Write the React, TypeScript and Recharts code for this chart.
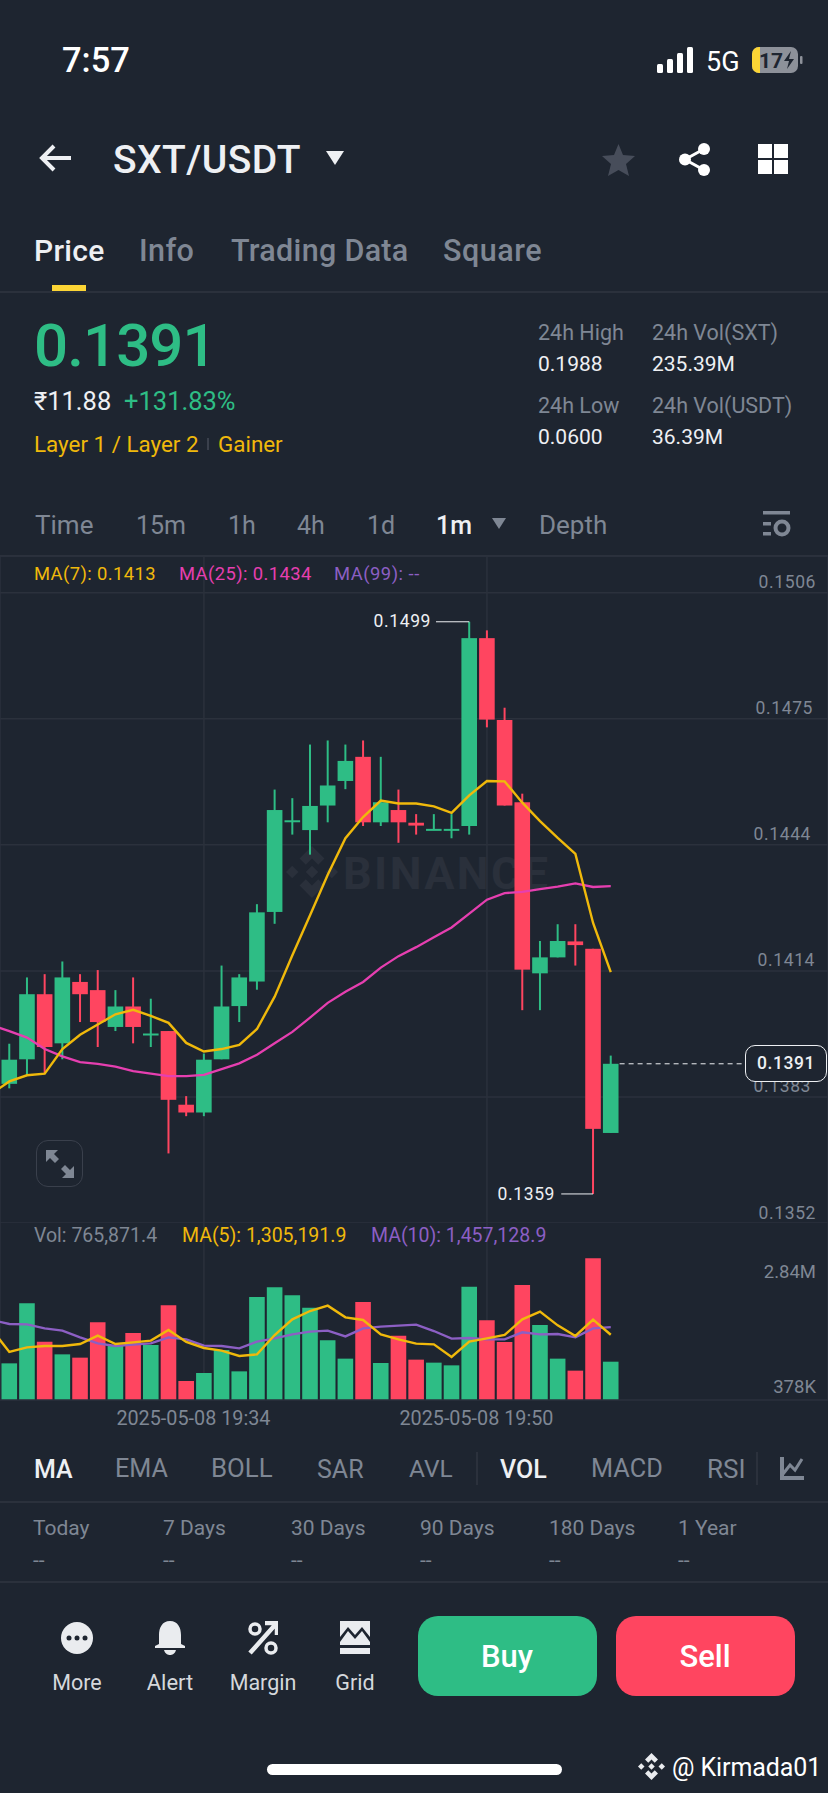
import React from 'react'
import {
  ComposedChart, Bar, Line, XAxis, YAxis, CartesianGrid, ReferenceLine, Cell,
} from 'recharts'

// candles, oldest first
const OPEN = [0.13860, 0.13920, 0.14079, 0.13959, 0.14109, 0.14089, 0.13999, 0.14049, 0.13981, 0.13989, 0.13809, 0.13790, 0.13920, 0.14050, 0.14110, 0.14280, 0.14502, 0.14480, 0.14540, 0.14600, 0.14659, 0.14499, 0.14529, 0.14498, 0.14480, 0.14480, 0.14490, 0.14949, 0.14749, 0.14548, 0.14130, 0.14169, 0.14208, 0.14190, 0.13740]
const CLOSE = [0.13919, 0.14079, 0.13950, 0.14120, 0.14079, 0.14011, 0.14049, 0.13999, 0.13983, 0.13821, 0.13790, 0.13919, 0.14049, 0.14120, 0.14279, 0.14529, 0.14504, 0.14539, 0.14589, 0.14649, 0.14499, 0.14548, 0.14499, 0.14491, 0.14483, 0.14483, 0.14949, 0.14750, 0.14540, 0.14139, 0.14169, 0.14209, 0.14199, 0.13750, 0.13909]
const HIGH = [0.13958, 0.14120, 0.14128, 0.14159, 0.14128, 0.14138, 0.14089, 0.14120, 0.14068, 0.13989, 0.13830, 0.13934, 0.14149, 0.14128, 0.14299, 0.14579, 0.14558, 0.14689, 0.14699, 0.14689, 0.14699, 0.14659, 0.14579, 0.14519, 0.14519, 0.14519, 0.14989, 0.14968, 0.14779, 0.14569, 0.14209, 0.14250, 0.14250, 0.14190, 0.13929]
const LOW = [0.13849, 0.13880, 0.13885, 0.13920, 0.14011, 0.13950, 0.13989, 0.13959, 0.13950, 0.13690, 0.13781, 0.13781, 0.13920, 0.14011, 0.14090, 0.14251, 0.14469, 0.14420, 0.14499, 0.14580, 0.14490, 0.14490, 0.14449, 0.14469, 0.14480, 0.14460, 0.14469, 0.14731, 0.14540, 0.14040, 0.14040, 0.14169, 0.14149, 0.13591, 0.13740]
const VOLUME = [733000, 1933000, 1167000, 913000, 847000, 1553000, 1080000, 1340000, 1100000, 1893000, 380000, 540000, 1000000, 573000, 2060000, 2253000, 2093000, 1847000, 1193000, 827000, 1960000, 740000, 1287000, 807000, 747000, 693000, 2267000, 1593000, 1160000, 2300000, 1500000, 827000, 587000, 2833000, 766000]

// moving averages start one minute before the first visible candle
const MA7 = [0.13836, 0.13866, 0.13881, 0.13885, 0.13945, 0.13980, 0.14005, 0.14030, 0.14041, 0.14026, 0.14009, 0.13960, 0.13939, 0.13945, 0.13955, 0.13994, 0.14073, 0.14174, 0.14272, 0.14371, 0.14460, 0.14512, 0.14552, 0.14545, 0.14545, 0.14538, 0.14522, 0.14565, 0.14600, 0.14599, 0.14547, 0.14502, 0.14461, 0.14422, 0.14253, 0.14133]
const MA25 = [0.14003, 0.13989, 0.13973, 0.13945, 0.13927, 0.13913, 0.13909, 0.13902, 0.13891, 0.13885, 0.13879, 0.13879, 0.13882, 0.13896, 0.13910, 0.13931, 0.13959, 0.13987, 0.14022, 0.14058, 0.14085, 0.14109, 0.14144, 0.14172, 0.14194, 0.14218, 0.14242, 0.14276, 0.14310, 0.14326, 0.14329, 0.14336, 0.14342, 0.14350, 0.14341, 0.14343]
const VOL_MA5 = [1413000, 960000, 1053000, 1080000, 1080000, 1120000, 1287000, 1120000, 1153000, 1187000, 1400000, 1160000, 1040000, 987000, 880000, 913000, 1300000, 1613000, 1780000, 1887000, 1653000, 1600000, 1313000, 1213000, 1127000, 1113000, 860000, 1167000, 1233000, 1300000, 1613000, 1767000, 1493000, 1280000, 1607000, 1305000]
const VOL_MA10 = [1600000, 1520000, 1513000, 1433000, 1387000, 1253000, 1133000, 1080000, 1107000, 1133000, 1253000, 1213000, 1087000, 1080000, 1033000, 1167000, 1233000, 1313000, 1367000, 1387000, 1273000, 1433000, 1467000, 1487000, 1507000, 1380000, 1227000, 1240000, 1213000, 1213000, 1353000, 1313000, 1320000, 1253000, 1433000, 1457000]

// unrounded so the grid stays evenly spaced, labels show four decimals
const PRICE_TICKS = [0.1506, 0.14752, 0.14444, 0.14136, 0.13828, 0.1352]
const VOL_TICKS = [2840000, 378000]
const TIME_TICKS = [11, 27]
const TIME_LABELS = ['2025-05-08 19:34', '2025-05-08 19:50']

const BG = '#1E2530'
const GRID = '#2B313C'
const GREEN = '#2EBD85'
const RED = '#FF4560'
const YELLOW = '#F0B90B'
const PINK = '#E63FB0'
const PURPLE = '#8C5FC4'
const GREY = '#7F8794'
const WHITE = '#EEF0F3'
const FONT = 'Roboto, sans-serif'

const X_DOMAIN = [-0.527, 46.28]

const priceRows = MA7.map((ma7, i) => {
  const c = i - 1
  return {
    idx: c,
    ma7,
    ma25: MA25[i],
    range: c >= 0 ? [LOW[c], HIGH[c]] : undefined,
    open: OPEN[c],
    close: CLOSE[c],
  }
})

const volRows = VOL_MA5.map((ma5, i) => ({
  idx: i - 1,
  ma5,
  ma10: VOL_MA10[i],
  volume: i > 0 ? VOLUME[i - 1] : undefined,
  up: i > 0 ? CLOSE[i - 1] >= OPEN[i - 1] : true,
}))

function Candle(props: any) {
  const { x, y, width, height, payload } = props
  if (!payload.range) return null
  const [low, high] = payload.range
  const toY = (v: number) => y + ((high - v) / (high - low)) * height
  const up = payload.close >= payload.open
  const color = up ? GREEN : RED
  const top = toY(Math.max(payload.open, payload.close))
  const bottom = toY(Math.min(payload.open, payload.close))
  const cx = x + width / 2
  return (
    <g>
      <line x1={cx} x2={cx} y1={y} y2={y + height} stroke={color} strokeWidth={2} />
      <rect x={x} y={top} width={width} height={Math.max(bottom - top, 2)} fill={color} />
    </g>
  )
}

const PRICE_RIGHT: Record<string, number> = {
  '0.1506': 816, '0.1475': 813, '0.1444': 811, '0.1414': 815, '0.1383': 811, '0.1352': 816,
}

function PriceTick(props: any) {
  const label = Number(props.payload.value).toFixed(4)
  return (
    <text x={PRICE_RIGHT[label]} y={props.y - 10.5} textAnchor="end" dominantBaseline="central"
      fill={GREY} fontFamily={FONT} fontSize={17.5} letterSpacing={0.6}>
      {label}
    </text>
  )
}

function VolTick(props: any) {
  const big = props.payload.value > 1000000
  return (
    <text x={816} y={props.y + (big ? 14 : 6)} textAnchor="end" dominantBaseline="central"
      fill={GREY} fontFamily={FONT} fontSize={18.5}>
      {big ? '2.84M' : '378K'}
    </text>
  )
}

function TimeTick(props: any) {
  const label = TIME_LABELS[TIME_TICKS.indexOf(props.payload.value)]
  return (
    <text x={props.x - 10.5} y={1418 - 1223} textAnchor="middle" dominantBaseline="central"
      fill={GREY} fontFamily={FONT} fontSize={19.8}>
      {label}
    </text>
  )
}

// absolutely placed text, y is the vertical centre
function T({ x, y, size, color = GREY, weight = 400, center, right, spacing, children }: any) {
  const tx = center ? '-50%' : right ? '-100%' : '0'
  return (
    <span style={{
      position: 'absolute', left: x, top: y, transform: `translate(${tx}, -50%)`,
      fontSize: size, color, fontWeight: weight, letterSpacing: spacing, whiteSpace: 'nowrap', lineHeight: 1,
    }}>
      {children}
    </span>
  )
}

function Rule({ y }: { y: number }) {
  return <div style={{ position: 'absolute', left: 0, width: 828, top: y, height: 1.5, background: GRID }} />
}

function Icon({ x, y, w, h, vb, children }: any) {
  return (
    <svg style={{ position: 'absolute', left: x, top: y }} width={w} height={h} viewBox={vb}>
      {children}
    </svg>
  )
}

function BinanceMark({ x, y, size, color }: any) {
  return (
    <Icon x={x} y={y} w={size} h={size} vb="0 0 100 100">
      <g fill={color}>
        <path d="M50 0 L74 24 L62 36 L50 24 L38 36 L26 24 Z" />
        <path d="M50 100 L74 76 L62 64 L50 76 L38 64 L26 76 Z" />
        <path d="M12 38 L24 50 L12 62 L0 50 Z" />
        <path d="M88 38 L100 50 L88 62 L76 50 Z" />
        <path d="M50 38 L62 50 L50 62 L38 50 Z" />
      </g>
    </Icon>
  )
}

function PriceChart() {
  return (
    <div style={{ position: 'absolute', left: 0, top: 556 }}>
      <ComposedChart width={828} height={667} data={priceRows} margin={{ top: 0, right: 0, bottom: 0, left: 0 }}>
        <CartesianGrid stroke={GRID} strokeWidth={1.5} />
        <XAxis dataKey="idx" type="number" domain={X_DOMAIN} ticks={TIME_TICKS} interval={0} allowDataOverflow hide />
        <YAxis type="number" domain={[0.1352, 0.151497]} ticks={PRICE_TICKS} interval={0} orientation="right"
          mirror width={70} axisLine={false} tickLine={false} tick={PriceTick} allowDataOverflow />
        <Bar dataKey="range" barSize={15.6} shape={Candle} isAnimationActive={false} />
        <Line dataKey="ma25" stroke={PINK} strokeWidth={2.3} dot={false} isAnimationActive={false} />
        <Line dataKey="ma7" stroke={YELLOW} strokeWidth={2.4} dot={false} isAnimationActive={false} />
        <ReferenceLine segment={[{ x: 24.12, y: 0.14989 }, { x: 26, y: 0.14989 }]} stroke={WHITE} strokeWidth={1} />
        <ReferenceLine segment={[{ x: 31.2, y: 0.13591 }, { x: 33, y: 0.13591 }]} stroke={WHITE} strokeWidth={1} />
        <ReferenceLine segment={[{ x: 34.5, y: 0.13909 }, { x: 41.6, y: 0.13909 }]} stroke={WHITE} strokeWidth={1} strokeDasharray="5 4" />
      </ComposedChart>
    </div>
  )
}

function VolumeChart() {
  return (
    <div style={{ position: 'absolute', left: 0, top: 1223 }}>
      <ComposedChart width={828} height={207} data={volRows} margin={{ top: 0, right: 0, bottom: 0, left: 0 }}>
        <CartesianGrid stroke={GRID} strokeWidth={1.5} horizontal={false} />
        <XAxis dataKey="idx" type="number" domain={X_DOMAIN} ticks={TIME_TICKS} interval={0} allowDataOverflow
          height={30} stroke={GRID} strokeWidth={1.5} tickLine={false} tick={TimeTick} />
        <YAxis type="number" domain={[0, 3540000]} ticks={VOL_TICKS} interval={0} orientation="right"
          mirror width={70} axisLine={false} tickLine={false} tick={VolTick} allowDataOverflow />
        <Bar dataKey="volume" barSize={15.6} isAnimationActive={false}>
          {volRows.map(r => <Cell key={r.idx} fill={r.up ? GREEN : RED} />)}
        </Bar>
        <Line dataKey="ma10" stroke={PURPLE} strokeWidth={2.4} dot={false} isAnimationActive={false} />
        <Line dataKey="ma5" stroke={YELLOW} strokeWidth={2.4} dot={false} isAnimationActive={false} />
      </ComposedChart>
    </div>
  )
}

export default function App() {
  return (
    <div style={{ position: 'absolute', left: 0, top: 0, width: 828, height: 1793, background: BG, overflow: 'hidden', fontFamily: FONT }}>
      {/* status bar */}
      <T x={62} y={60} size={34.5} color="#fff" weight={500}>7:57</T>
      <Icon x={657} y={47} w={38} h={26} vb="0 0 38 26">
        <g fill="#fff">
          <rect x={0} y={17} width={6} height={9} rx={1.5} />
          <rect x={10} y={12} width={6} height={14} rx={1.5} />
          <rect x={20} y={6} width={6} height={20} rx={1.5} />
          <rect x={30} y={0} width={6} height={26} rx={1.5} />
        </g>
      </Icon>
      <T x={706} y={62} size={27} color="#fff">5G</T>
      <Icon x={752} y={46} w={52} h={28} vb="0 0 52 28">
        <rect x={0} y={1} width={46} height={26} rx={7} fill="#8d9199" />
        <path d="M7 1 H8 V27 H7 A7 7 0 0 1 0 20 V8 A7 7 0 0 1 7 1 Z" fill="#FCD535" />
        <rect x={48} y={10} width={2.5} height={8} rx={1} fill="#8d9199" />
        <path d="M39 5 L32 15 H37 L35 23 L42 13 H37 Z" fill="#1E2530" />
      </Icon>
      <T x={759} y={61} size={21} color="#1E2530" weight={700}>17</T>

      {/* title row */}
      <Icon x={39} y={143} w={33} h={30} vb="0 0 33 30">
        <path d="M15 3 L3 15 L15 27 M3 15 H32" fill="none" stroke={WHITE} strokeWidth={4} />
      </Icon>
      <T x={113} y={160} size={39} color={WHITE} weight={500} spacing={0.4}>SXT/USDT</T>
      <Icon x={326} y={151} w={18} h={14} vb="0 0 18 14"><path d="M0 0 H18 L9 14 Z" fill={WHITE} /></Icon>
      <Icon x={602} y={143} w={33} h={33} vb="0 0 33 33">
        <path d="M16.5 1 L21 12 L33 13 L24 21 L27 33 L16.5 27 L6 33 L9 21 L0 13 L12 12 Z" fill="#474D5A" />
      </Icon>
      <Icon x={679} y={143} w={32} h={33} vb="0 0 32 33">
        <circle cx={25} cy={6} r={6} fill="#fff" />
        <circle cx={6} cy={16.5} r={6} fill="#fff" />
        <circle cx={25} cy={27} r={6} fill="#fff" />
        <path d="M25 6 L6 16.5 L25 27" fill="none" stroke="#fff" strokeWidth={3} />
      </Icon>
      <Icon x={758} y={144} w={30} h={30} vb="0 0 30 30">
        <g fill="#fff">
          <rect x={0} y={0} width={14} height={14} />
          <rect x={16} y={0} width={14} height={14} />
          <rect x={0} y={16} width={14} height={14} />
          <rect x={16} y={16} width={14} height={14} />
        </g>
      </Icon>

      {/* tabs */}
      <T x={34} y={251} size={30} color={WHITE} weight={500} spacing={0.3}>Price</T>
      <T x={139} y={251} size={30.5} weight={500} spacing={0.4}>Info</T>
      <T x={231} y={251} size={30.5} weight={500} spacing={0.3}>Trading Data</T>
      <T x={443} y={251} size={30.5} weight={500} spacing={0.5}>Square</T>
      <div style={{ position: 'absolute', left: 52, top: 285, width: 34, height: 6, background: '#FCD535' }} />
      <Rule y={291} />

      {/* ticker */}
      <T x={34} y={346} size={60} color={GREEN} weight={500} spacing={-0.9}>0.1391</T>
      <T x={34} y={402} size={25.5} color={WHITE}>₹11.88</T>
      <T x={124} y={402} size={25.5} color={GREEN}>+131.83%</T>
      <T x={34} y={444} size={22.4} color={YELLOW}>Layer 1 / Layer 2</T>
      <div style={{ position: 'absolute', left: 207, top: 438, width: 1.5, height: 12, background: '#3a404c' }} />
      <T x={218} y={444} size={22.4} color={YELLOW}>Gainer</T>
      <T x={538} y={333} size={21.5}>24h High</T>
      <T x={538} y={364} size={21} color={WHITE}>0.1988</T>
      <T x={652} y={333} size={21.5}>24h Vol(SXT)</T>
      <T x={652} y={364} size={21} color={WHITE}>235.39M</T>
      <T x={538} y={406} size={21.5}>24h Low</T>
      <T x={538} y={437} size={21} color={WHITE}>0.0600</T>
      <T x={652} y={406} size={21.5}>24h Vol(USDT)</T>
      <T x={652} y={437} size={21} color={WHITE}>36.39M</T>

      {/* intervals */}
      <T x={35} y={525} size={26}>Time</T>
      <T x={136} y={525} size={25}>15m</T>
      <T x={228} y={525} size={25}>1h</T>
      <T x={297} y={525} size={25}>4h</T>
      <T x={367} y={525} size={25}>1d</T>
      <T x={436} y={525} size={25} color={WHITE} weight={500}>1m</T>
      <Icon x={492} y={518} w={14} h={11} vb="0 0 14 11"><path d="M0 0 H14 L7 11 Z" fill={GREY} /></Icon>
      <T x={539} y={525} size={26}>Depth</T>
      <Icon x={763} y={511} w={28} h={27} vb="0 0 28 27">
        <g fill={GREY}>
          <rect x={0} y={0} width={27} height={3.5} />
          <rect x={0} y={11} width={8} height={3.5} />
          <rect x={0} y={21} width={8} height={3.5} />
        </g>
        <circle cx={19} cy={17} r={6.5} fill="none" stroke={GREY} strokeWidth={4} />
      </Icon>

      <Rule y={555} />

      {/* watermark sits under the candles */}
      <BinanceMark x={286} y={846} size={52} color="#2A303B" />
      <T x={343} y={873} size={45} color="#2A303B" weight={700} spacing={2.4}>BINANCE</T>

      <PriceChart />
      <VolumeChart />

      {/* chart headers */}
      <T x={34} y={574} size={18.4} color={YELLOW} spacing={0.4}>MA(7): 0.1413</T>
      <T x={179} y={574} size={18.4} color={PINK} spacing={0.4}>MA(25): 0.1434</T>
      <T x={334} y={574} size={18.4} color={PURPLE} spacing={0.5}>MA(99): --</T>
      <T x={34} y={1236} size={19.5}>Vol: 765,871.4</T>
      <T x={182} y={1236} size={19.5} color={YELLOW}>MA(5): 1,305,191.9</T>
      <T x={371} y={1236} size={19.5} color={PURPLE}>MA(10): 1,457,128.9</T>

      {/* high / low marks */}
      <T x={431} y={622} size={17.5} color={WHITE} right spacing={0.6}>0.1499</T>
      <T x={555} y={1195} size={17.5} color={WHITE} right spacing={0.6}>0.1359</T>

      {/* last price pill */}
      <div style={{
        position: 'absolute', left: 745, top: 1045, width: 82, height: 37, boxSizing: 'border-box',
        border: `1.5px solid ${WHITE}`, borderRadius: 10, background: BG, color: WHITE,
        fontSize: 17.5, letterSpacing: 0.6, fontWeight: 500, lineHeight: '35px', textAlign: 'center',
      }}>0.1391</div>

      {/* expand button */}
      <div style={{ position: 'absolute', left: 36, top: 1140, width: 47, height: 47, boxSizing: 'border-box', border: '1.5px solid #3A404C', borderRadius: 12 }} />
      <Icon x={46} y={1150} w={28} h={28} vb="0 0 28 28">
        <path d="M0 0 H12 L8 4 L13 9 L9 13 L4 8 L0 12 Z" fill={GREY} />
        <path d="M28 28 H16 L20 24 L15 19 L19 15 L24 20 L28 16 Z" fill={GREY} />
      </Icon>

      {/* indicators */}
      <T x={34} y={1469} size={25} color={WHITE} weight={500}>MA</T>
      <T x={115} y={1469} size={25.2}>EMA</T>
      <T x={211} y={1469} size={25.8}>BOLL</T>
      <T x={317} y={1469} size={25}>SAR</T>
      <T x={409} y={1469} size={24.5}>AVL</T>
      <div style={{ position: 'absolute', left: 476, top: 1452, width: 1.5, height: 33, background: GRID }} />
      <T x={500} y={1469} size={25} color={WHITE} weight={500}>VOL</T>
      <T x={591} y={1469} size={25.3}>MACD</T>
      <T x={707} y={1469} size={26}>RSI</T>
      <div style={{ position: 'absolute', left: 756, top: 1452, width: 1.5, height: 33, background: GRID }} />
      <Icon x={780} y={1457} w={24} h={24} vb="0 0 24 24">
        <path d="M2 0 V21 H24" fill="none" stroke={GREY} strokeWidth={4} />
        <path d="M3 17 L10 8 L15 13 L22 2" fill="none" stroke={GREY} strokeWidth={3} />
      </Icon>
      <Rule y={1501} />

      {/* performance */}
      {[['Today', 33], ['7 Days', 163], ['30 Days', 291], ['90 Days', 420], ['180 Days', 549], ['1 Year', 678]].map(([label, x]) => (
        <React.Fragment key={label}>
          <T x={x} y={1528} size={21}>{label}</T>
          <T x={x} y={1560} size={21}>--</T>
        </React.Fragment>
      ))}
      <Rule y={1581} />

      {/* bottom bar */}
      <Icon x={61} y={1622} w={32} h={32} vb="0 0 32 32">
        <circle cx={16} cy={16} r={16} fill="#EAECEF" />
        <circle cx={8} cy={16} r={2.5} fill={BG} />
        <circle cx={16} cy={16} r={2.5} fill={BG} />
        <circle cx={24} cy={16} r={2.5} fill={BG} />
      </Icon>
      <Icon x={155} y={1621} w={30} h={34} vb="0 0 30 34">
        <path d="M15 0 C23 0 26 7 26 14 V23 L30 25 V27 H0 V25 L4 23 V14 C4 7 7 0 15 0 Z" fill="#EAECEF" />
        <path d="M9 29 H21 C20 33 17 34 15 34 C13 34 10 33 9 29 Z" fill="#EAECEF" />
      </Icon>
      <Icon x={248} y={1621} w={30} h={34} vb="0 0 30 34">
        <path d="M2 32 L27 4 M17 2 H29 V14" fill="none" stroke="#EAECEF" strokeWidth={4.5} />
        <circle cx={7} cy={8} r={5} fill="none" stroke="#EAECEF" strokeWidth={3.5} />
        <circle cx={23} cy={27} r={5} fill="none" stroke="#EAECEF" strokeWidth={3.5} />
      </Icon>
      <Icon x={340} y={1621} w={30} h={34} vb="0 0 30 34">
        <path d="M0 0 H30 V16 L22 6 L15 14 L8 6 L0 16 Z" fill="#EAECEF" />
        <path d="M0 21 L8 10 L15 18 L22 10 L30 21 V24 H0 Z" fill="#EAECEF" />
        <rect x={0} y={27} width={30} height={6} fill="#EAECEF" />
      </Icon>
      <T x={77} y={1683} size={21.5} color="#D5D8DC" center>More</T>
      <T x={170} y={1683} size={22} color="#D5D8DC" center>Alert</T>
      <T x={263} y={1683} size={21.5} color="#D5D8DC" center>Margin</T>
      <T x={355} y={1683} size={21.5} color="#D5D8DC" center>Grid</T>
      <div style={{ position: 'absolute', left: 418, top: 1616, width: 179, height: 80, borderRadius: 20, background: GREEN }} />
      <T x={507} y={1656} size={31} color="#fff" weight={500} center>Buy</T>
      <div style={{ position: 'absolute', left: 616, top: 1616, width: 179, height: 80, borderRadius: 20, background: RED }} />
      <T x={705} y={1656} size={31} color="#fff" weight={500} center>Sell</T>
      <div style={{ position: 'absolute', left: 267, top: 1764, width: 295, height: 11, borderRadius: 6, background: '#fff' }} />
      <BinanceMark x={638} y={1753} size={27} color="#EAECEF" />
      <T x={672} y={1767} size={25} color="#fff" spacing={-0.1}>@ Kirmada01</T>
    </div>
  )
}
